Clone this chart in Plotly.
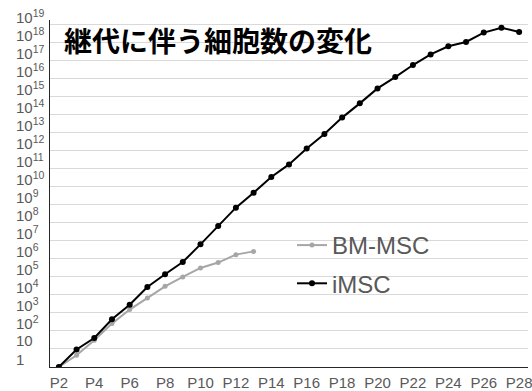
import plotly.graph_objects as go

# Passage numbers (P2 .. P28)
passages = list(range(2, 29))

# Cumulative cell counts expressed as log10 values
imsc_log10 = [0.0, 0.97, 1.61, 2.65, 3.46, 4.44, 5.15, 5.83, 6.81, 7.83,
              8.85, 9.68, 10.55, 11.25, 12.13, 12.94, 13.85, 14.64, 15.47,
              16.10, 16.77, 17.36, 17.81, 18.05, 18.57, 18.84, 18.60]
bm_msc_log10 = [0.0, 0.65, 1.48, 2.41, 3.19, 3.83, 4.48, 5.00, 5.50, 5.80,
                6.24, 6.42]

# Axis labels
x_tick_passages = list(range(2, 29, 2))
x_tick_text = [f"P{p}" for p in x_tick_passages]
y_exponents = list(range(0, 20))

title_text = "継代に伴う細胞数の変化"

imsc_counts = [10 ** v for v in imsc_log10]
bm_msc_counts = [10 ** v for v in bm_msc_log10]

LABEL_FONT = "Arial, Liberation Sans, sans-serif"
LABEL_GREY = "#595959"

fig = go.Figure()

fig.add_trace(go.Scatter(
    x=passages[:len(bm_msc_counts)], y=bm_msc_counts,
    mode="lines+markers", name="BM-MSC", legendgroup="bm",
    line=dict(color="#a6a6a6", width=2),
    marker=dict(color="#a6a6a6", size=5),
))
fig.add_trace(go.Scatter(
    x=passages, y=imsc_counts,
    mode="lines+markers", name="iMSC", legendgroup="imsc",
    line=dict(color="#000000", width=2),
    marker=dict(color="#000000", size=6),
))

# Decade labels, left-aligned beside the value axis
plot_left, plot_width = 50, 478
for k in y_exponents:
    if k == 0:
        txt = "1"
    elif k == 1:
        txt = "10"
    else:
        txt = f"10<sup>{k}</sup>"
    fig.add_annotation(
        text=txt, xref="paper", yref="y",
        x=(14 - plot_left) / plot_width, y=k,
        xanchor="left", yanchor="middle", yshift=8,
        showarrow=False,
        font=dict(family=LABEL_FONT, size=15, color=LABEL_GREY),
    )

fig.add_annotation(
    text=title_text, xref="paper", yref="paper",
    x=(62 - plot_left) / plot_width, y=1 - (40 - 20) / 347,
    xanchor="left", yanchor="middle", showarrow=False,
    font=dict(family="Noto Sans CJK JP", size=28, color="#000000", weight=700),
)

fig.update_layout(
    width=532, height=391,
    margin=dict(l=50, r=4, t=20, b=24),
    paper_bgcolor="white", plot_bgcolor="white",
    showlegend=True,
    legend=dict(
        x=(292 - plot_left) / plot_width, y=0.415,
        xanchor="left", yanchor="top",
        bgcolor="rgba(0,0,0,0)",
        font=dict(family=LABEL_FONT, size=24, color=LABEL_GREY),
        traceorder="grouped", tracegroupgap=4,
    ),
    xaxis=dict(
        range=[1.5, 28.5],
        tickmode="array", tickvals=x_tick_passages, ticktext=x_tick_text,
        showgrid=False, zeroline=False,
        showline=True, linecolor="#262626", linewidth=1,
        ticks="", ticklabeloverflow="allow", ticklabelstandoff=2,
        automargin=False,
        tickfont=dict(family=LABEL_FONT, size=15, color=LABEL_GREY),
    ),
    yaxis=dict(
        type="log", range=[0, 19.27], dtick=1,
        showgrid=True, gridcolor="#d9d9d9", gridwidth=1,
        showline=True, linecolor="#262626", linewidth=1,
        showticklabels=False, ticks="", zeroline=False,
    ),
)

fig.write_html("out.html")
